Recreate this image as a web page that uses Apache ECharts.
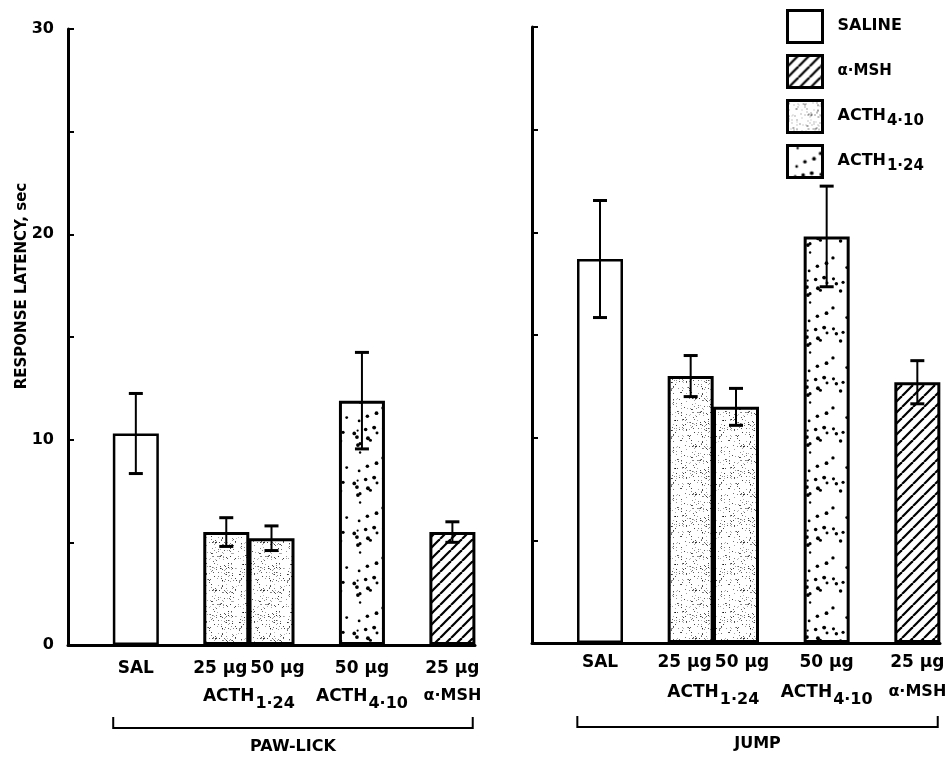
<!DOCTYPE html>
<html>
<head>
<meta charset="utf-8">
<script src="https://cdn.jsdelivr.net/npm/echarts@6/dist/echarts.min.js"></script>
<style>
  * { margin: 0; padding: 0; }
  body { background: #fff; }
  #chart-container { width: 951px; height: 760px; }
</style>
</head>
<body>
<div id="chart-container"></div>
<script>
// category slots on each panel (empty slots make the gaps between groups)
var slotKeys = ['gap0', 'SAL', 'gap2', 'ACTH1-24 25', 'ACTH1-24 50', 'gap5', 'ACTH4-10 50', 'gap7', 'a-MSH 25']
var doseLabels = ['', 'SAL', '', '25 µg', '50 µg', '', '50 µg', '', '25 µg']

// one entry per bar
var barTreatment = ['SALINE', 'ACTH1-24', 'ACTH1-24', 'ACTH4-10', 'α-MSH']
var barSlot = [1, 3, 4, 6, 8]
var pawLickMean = [10.3, 5.5, 5.2, 11.9, 5.5]
var pawLickErr = [1.95, 0.7, 0.6, 2.35, 0.5]
var jumpMean = [18.7, 13.0, 11.5, 19.8, 12.7]
var jumpErr = [2.85, 1.0, 0.9, 2.45, 1.05]

var yTicks = [0, 10, 20, 30]
var legendNames = ['SALINE', 'α-MSH', 'ACTH4-10', 'ACTH1-24']
var panelNames = ['PAW-LICK', 'JUMP']
var drugLabels = [
  { name: 'ACTH1-24', slots: [3, 4] },
  { name: 'ACTH4-10', slots: [6] },
  { name: 'α-MSH', slots: [8] },
]

var FONT = 'DejaVu Sans'

// ---- fill textures ----
function makeTile(size, draw) {
  var c = document.createElement('canvas')
  c.width = size
  c.height = size
  var ctx = c.getContext('2d')
  ctx.fillStyle = '#fff'
  ctx.fillRect(0, 0, size, size)
  ctx.fillStyle = '#000'
  ctx.strokeStyle = '#000'
  draw(ctx, size)
  return { image: c, repeat: 'repeat' }
}
// seeded generator, only used to scatter texture dots
function seeded(s) {
  return function () {
    s = (s * 9301 + 49297) % 233280
    return s / 233280
  }
}
var hatch = makeTile(11, function (ctx, n) {
  ctx.lineWidth = 2.2
  for (var k = -1; k <= 1; k++) {
    ctx.beginPath()
    ctx.moveTo(k * n, n)
    ctx.lineTo(k * n + n, 0)
    ctx.stroke()
  }
})
var fineStipple = makeTile(48, function (ctx, n) {
  var r = seeded(11)
  for (var i = 0; i < 230; i++) {
    ctx.globalAlpha = 0.25 + r() * 0.55
    ctx.fillRect(Math.floor(r() * n), Math.floor(r() * n), 1, 1)
  }
  ctx.globalAlpha = 1
})
var coarseDots = makeTile(50, function (ctx, n) {
  var r = seeded(23)
  for (var i = 0; i < 20; i++) {
    ctx.beginPath()
    ctx.arc(2 + r() * (n - 4), 2 + r() * (n - 4), 1.1 + r() * 0.9, 0, Math.PI * 2)
    ctx.fill()
  }
})
var white = '#fff'

var seriesFill = { 'SALINE': white, 'ACTH1-24': fineStipple, 'ACTH4-10': coarseDots, 'α-MSH': hatch }
// the printed legend shows these swatches
var legendFill = { 'SALINE': white, 'α-MSH': hatch, 'ACTH4-10': fineStipple, 'ACTH1-24': coarseDots }

function richName(name) {
  if (name.indexOf('ACTH') === 0) return '{m|ACTH}{s|' + name.slice(4).replace('-', '·') + '}'
  if (name === 'α-MSH') return '{a|α·MSH}'
  return '{m|' + name + '}'
}

var chartDom = document.getElementById('chart-container')
var myChart = echarts.init(chartDom, null, { renderer: 'canvas' })

var grids = [
  { left: 68, top: 29, width: 407, height: 616 },
  { left: 532, top: 27, width: 408, height: 616 },
]

function axisPair(i) {
  return {
    x: {
      type: 'category',
      gridIndex: i,
      data: slotKeys,
      axisLine: { lineStyle: { color: '#000', width: 3 } },
      axisTick: { show: false },
      axisLabel: {
        interval: 0,
        margin: i === 0 ? 15 : 11,
        color: '#000',
        fontFamily: FONT,
        fontWeight: 'bold',
        fontSize: 17,
        // the paired dose labels sit a little apart
        formatter: function (v, idx) {
          if (idx === 3) return '{l|' + doseLabels[idx] + '}'
          if (idx === 4) return '{r|' + doseLabels[idx] + '}'
          return doseLabels[idx]
        },
        rich: {
          l: { fontFamily: FONT, fontWeight: 'bold', fontSize: 17, color: '#000', padding: [0, 12, 0, 0] },
          r: { fontFamily: FONT, fontWeight: 'bold', fontSize: 17, color: '#000', padding: [0, 0, 0, 12] },
        },
      },
    },
    y: {
      type: 'value',
      gridIndex: i,
      min: 0,
      max: 30,
      interval: 5,
      splitLine: { show: false },
      axisLine: { show: true, lineStyle: { color: '#000', width: 3 } },
      axisTick: { show: true, inside: true, length: 6, lineStyle: { color: '#000', width: 2 } },
      axisLabel: {
        show: i === 0,
        margin: 14,
        color: '#000',
        fontFamily: FONT,
        fontWeight: 'bold',
        fontSize: 16,
        formatter: function (v) { return yTicks.indexOf(v) >= 0 ? String(v) : '' },
      },
    },
  }
}

var series = []
var panels = [
  { mean: pawLickMean, err: pawLickErr },
  { mean: jumpMean, err: jumpErr },
]
panels.forEach(function (p, g) {
  ;['SALINE', 'ACTH1-24', 'ACTH4-10', 'α-MSH'].forEach(function (t) {
    var data = slotKeys.map(function () { return null })
    barTreatment.forEach(function (bt, k) {
      if (bt === t) data[barSlot[k]] = p.mean[k]
    })
    series.push({
      name: t,
      type: 'bar',
      xAxisIndex: g,
      yAxisIndex: g,
      barWidth: 46,
      barGap: '-100%',
      data: data,
      itemStyle: {
        color: seriesFill[t],
        borderColor: '#000',
        borderWidth: t === 'SALINE' ? 2.5 : 3,
      },
    })
  })
  series.push({
    name: 'sem',
    type: 'custom',
    xAxisIndex: g,
    yAxisIndex: g,
    z: 5,
    encode: { x: 0, y: [1, 2] },
    data: barSlot.map(function (s, k) { return [s, p.mean[k] - p.err[k], p.mean[k] + p.err[k]] }),
    renderItem: function (params, api) {
      var x = api.coord([api.value(0), 0])[0]
      var lo = api.coord([api.value(0), api.value(1)])[1]
      var hi = api.coord([api.value(0), api.value(2)])[1]
      var h = 7
      return {
        type: 'group',
        children: [
          { type: 'line', shape: { x1: x, y1: lo, x2: x, y2: hi }, style: { stroke: '#000', lineWidth: 2 } },
          { type: 'line', shape: { x1: x - h, y1: hi, x2: x + h, y2: hi }, style: { stroke: '#000', lineWidth: 3 } },
          { type: 'line', shape: { x1: x - h, y1: lo, x2: x + h, y2: lo }, style: { stroke: '#000', lineWidth: 3 } },
        ],
      }
    },
  })
})

var a0 = axisPair(0)
var a1 = axisPair(1)

var option = {
  backgroundColor: '#fff',
  animation: false,
  grid: grids,
  xAxis: [a0.x, a1.x],
  yAxis: [a0.y, a1.y],
  legend: {
    orient: 'vertical',
    left: 786,
    top: 9,
    padding: 0,
    itemWidth: 35,
    itemHeight: 32,
    itemGap: 10,
    selectedMode: false,
    icon: 'rect',
    itemStyle: { borderColor: '#000', borderWidth: 3 },
    data: legendNames.map(function (n) {
      return { name: n, itemStyle: { color: legendFill[n], borderColor: '#000', borderWidth: 3 } }
    }),
    formatter: richName,
    textStyle: {
      color: '#000',
      padding: [0, 0, 0, 10],
      rich: {
        m: { fontFamily: FONT, fontWeight: 'bold', fontSize: 16, lineHeight: 18, verticalAlign: 'top' },
        s: { fontFamily: FONT, fontWeight: 'bold', fontSize: 15, lineHeight: 18, verticalAlign: 'top', padding: [6, 0, 0, 1] },
        a: { fontFamily: FONT, fontWeight: 'bold', fontSize: 15, lineHeight: 18 },
      },
    },
  },
  series: series,
}
myChart.setOption(option)

// annotations under the axes, placed from the axis scale
var richRow = {
  m: { fontFamily: FONT, fontWeight: 'bold', fontSize: 17, lineHeight: 20, verticalAlign: 'top', fill: '#000' },
  s: { fontFamily: FONT, fontWeight: 'bold', fontSize: 16, lineHeight: 20, verticalAlign: 'top', padding: [8, 0, 0, 1], fill: '#000' },
  a: { fontFamily: FONT, fontWeight: 'bold', fontSize: 16, lineHeight: 20, verticalAlign: 'top', fill: '#000' },
}
var graphic = [
  {
    type: 'text',
    x: 22,
    y: 286,
    rotation: Math.PI / 2,
    style: {
      text: 'RESPONSE LATENCY, sec',
      font: 'bold 15px ' + FONT,
      fill: '#000',
      align: 'center',
      verticalAlign: 'middle',
    },
  },
]
var rowY = [[698, 728, 747], [694, 727, 744]]
;[0, 1].forEach(function (g) {
  var px = function (i) { return myChart.convertToPixel({ xAxisIndex: g }, i) }
  var w = px(1) - px(0)
  drugLabels.forEach(function (d) {
    var cx = 0
    d.slots.forEach(function (s) { cx += px(s) })
    cx /= d.slots.length
    graphic.push({
      type: 'text',
      x: cx,
      y: rowY[g][0],
      style: { text: richName(d.name), rich: richRow, align: 'center', verticalAlign: 'middle' },
    })
  })
  var x1 = px(1) - w / 2
  var x2 = px(8) + w * 0.45
  var by = rowY[g][1]
  graphic.push({
    type: 'polyline',
    shape: { points: [[x1, by - 11], [x1, by], [x2, by], [x2, by - 11]] },
    style: { stroke: '#000', lineWidth: 2, fill: null },
  })
  graphic.push({
    type: 'text',
    x: (x1 + x2) / 2,
    y: rowY[g][2],
    style: {
      text: panelNames[g],
      font: 'bold 16px ' + FONT,
      fill: '#000',
      align: 'center',
      verticalAlign: 'middle',
    },
  })
})
myChart.setOption({ graphic: graphic })
window.addEventListener('resize', myChart.resize)
</script>
</body>
</html>
